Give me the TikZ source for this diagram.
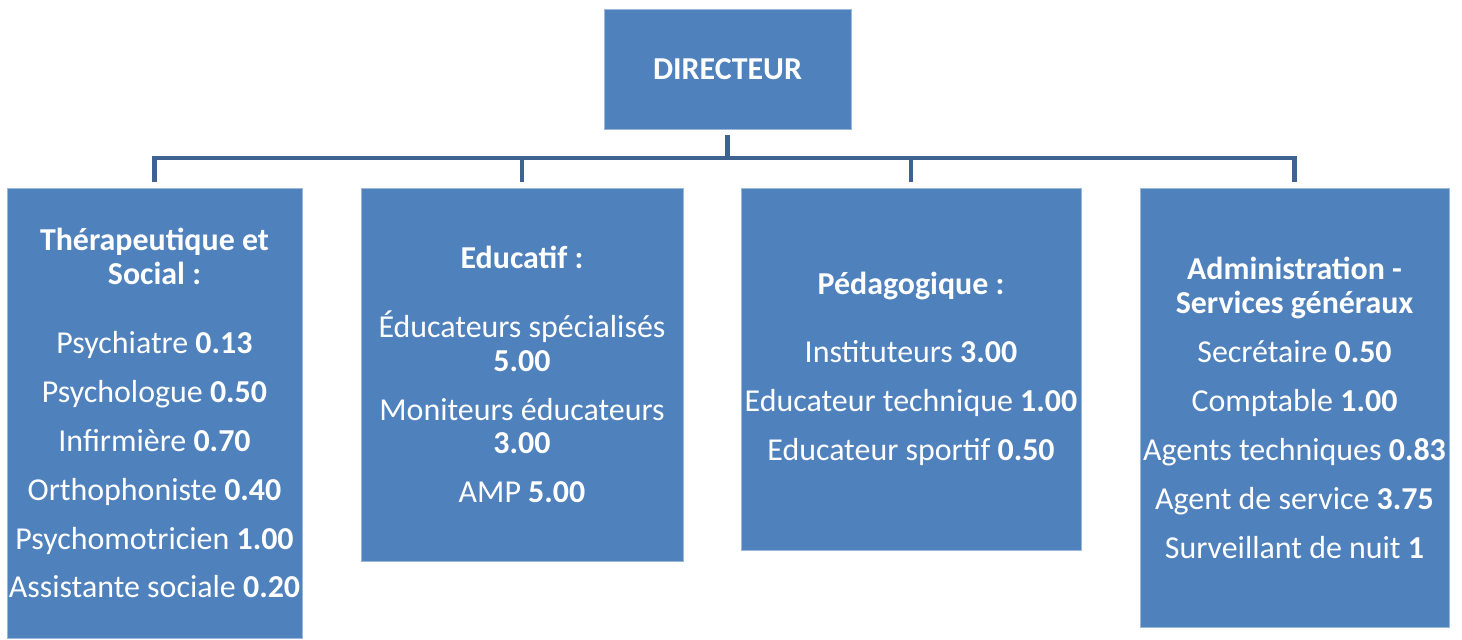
\documentclass[tikz,border=0pt]{standalone}
\usepackage{fontspec}
\setmainfont{Carlito}
\usepackage{tikz}
\usetikzlibrary{positioning}
\usetikzlibrary{calc}
\definecolor{boxblue}{HTML}{4F81BD}
\definecolor{boxline}{HTML}{9BB7D9}
\definecolor{connblue}{HTML}{3F6391}
\tikzstyle{unit}=[rectangle,fill=boxblue,draw=boxline,line width=0.6pt,text=white,align=center,inner sep=0pt,font=\fontsize{22.7}{24.1}\selectfont]
\tikzstyle{conn} = [draw=connblue,line width=3pt]
\tikzstyle{gap} = [shorten <=4pt]

\begin{document}
\begin{tikzpicture}[x=0.025cm,y=-0.025cm]

    \useasboundingbox (0,0) rectangle (1462,639);

    % director
    \node[unit, minimum width=6.175cm, minimum height=3cm] (dir) at (727.5,69) {\textbf{DIRECTEUR}};

    % the four services
    \node[unit, minimum width=7.375cm, minimum height=11.25cm] (therap) at (154.5,413)
        {\textbf{Thérapeutique et}\\\textbf{Social :}\\[25.5pt]
         Psychiatre \textbf{0.13}\\[10.6pt]
         Psychologue \textbf{0.50}\\[10.6pt]
         Infirmière \textbf{0.70}\\[10.6pt]
         Orthophoniste \textbf{0.40}\\[10.6pt]
         Psychomotricien \textbf{1.00}\\[10.6pt]
         Assistante sociale \textbf{0.20}};
    \node[unit, minimum width=8.05cm, minimum height=9.325cm] (educ) at (522,374.5)
        {\textbf{Educatif :}\\[24.8pt]
         Éducateurs spécialisés\\\textbf{5.00}\\[10.6pt]
         Moniteurs éducateurs\\\textbf{3.00}\\[10.6pt]
         AMP \textbf{5.00}};
    \node[unit, minimum width=8.5cm, minimum height=9.05cm] (peda) at (911,369)
        {\textbf{Pédagogique :}\\[24.1pt]
         Instituteurs \textbf{3.00}\\[10.6pt]
         Educateur technique \textbf{1.00}\\[10.6pt]
         Educateur sportif \textbf{0.50}};
    \node[unit, minimum width=7.725cm, minimum height=10.975cm] (admin) at (1294.5,407.5)
        {\textbf{Administration -}\\\textbf{Services généraux}\\[11.3pt]
         Secrétaire \textbf{0.50}\\[10.6pt]
         Comptable \textbf{1.00}\\[10.6pt]
         Agents techniques \textbf{0.83}\\[10.6pt]
         Agent de service \textbf{3.75}\\[10.6pt]
         Surveillant de nuit \textbf{1}};

    % connectors
    \coordinate (bus) at (727.5,158);
    \path[conn, gap] (dir.south) -- (dir.south |- bus);
    \path[conn, shorten <=4pt, shorten >=4pt] (therap.north) -- (therap.north |- bus) -- (admin.north |- bus) -- (admin.north);
    \foreach \unit in {educ, peda}
        \path[conn, gap] (\unit.north) -- (\unit.north |- bus);

\end{tikzpicture}
\end{document}
